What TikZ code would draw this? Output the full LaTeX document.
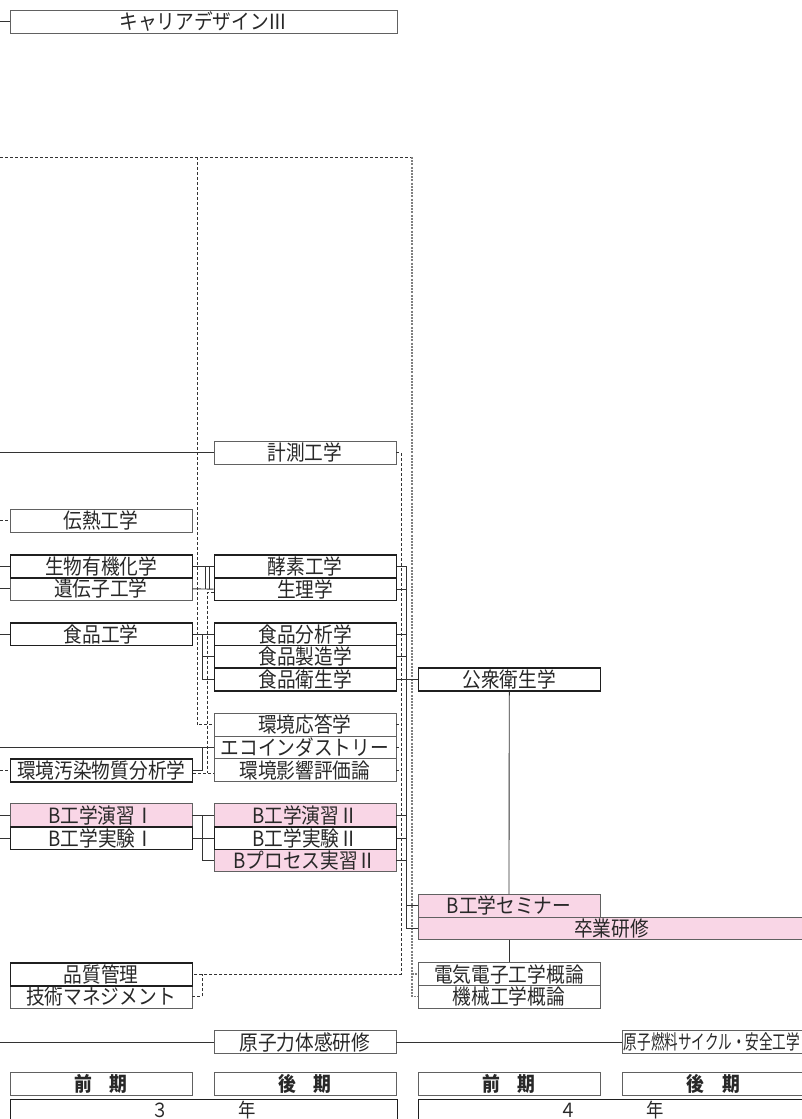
\documentclass[tikz,border=0pt]{standalone}
\usepackage{fontspec}
\setmainfont{Noto Sans CJK JP}[FakeStretch=0.89]
\newfontfamily\jpnarrow{Noto Sans CJK JP}[FakeStretch=0.68]
\usetikzlibrary{calc}
\definecolor{pinkc}{RGB}{249,214,230}
\definecolor{txt}{RGB}{40,40,40}
\tikzset{
  bx/.style={draw=black!62, line width=0.9pt, inner sep=0pt, anchor=north west,
    minimum width=182pt, minimum height=22.7pt, text=txt,
    font=\fontsize{21}{22}\selectfont},
  thk/.style={draw=black!88, line width=1.6pt},
  pk/.style={fill=pinkc},
  wide/.style={minimum width=387pt},
  ln/.style={draw=black!80, line width=0.9pt},
  dsh/.style={draw=black!80, line width=0.9pt, dash pattern=on 3pt off 2pt},
  gdsh/.style={draw=black!50, line width=1.3pt, dash pattern=on 2pt off 1.2pt},
  hdr/.style={bx, font=\fontsize{20}{21}\selectfont\bfseries},
  yr/.style={bx, thk, wide, minimum height=21pt, font=\fontsize{19.5}{20}\selectfont},
}
\begin{document}
\begin{tikzpicture}[x=1pt,y=-1pt]
\useasboundingbox (0,0) rectangle (802,1119);
\coordinate (edge) at (0,0);
\coordinate (topR) at (412,157);
\coordinate (vd1) at (197,157);
\coordinate (vd2) at (207,592);
\coordinate (vd2b) at (207,773);
\coordinate (vs1) at (202,0);
\coordinate (vs2) at (205.5,0);
\coordinate (vs3) at (209.5,0);
\coordinate (rd) at (401,0);
\coordinate (rb) at (406,0);

% ---- nodes (thin first, thick after)
\node[bx, wide] (cd3) at (9.5,10) {キャリアデザインⅢ};
\node[bx] (kei) at (213.5,441) {計測工学};
\node[bx] (den) at (9.5,509) {伝熱工学};
\node[bx] (iden) at (9.5,577) {遺伝子工学};
\node[bx, thk] (sei) at (9.5,554.3) {生物有機化学};
\node[bx, thk] (kou) at (213.5,554.3) {酵素工学};
\node[bx, thk] (seiri) at (213.5,577) {生理学};
\node[bx, thk] (shk) at (9.5,622) {食品工学};
\node[bx, thk] (sbun) at (213.5,622) {食品分析学};
\node[bx, thk] (ssei) at (213.5,644.7) {食品製造学};
\node[bx, thk] (seis) at (213.5,667.4) {食品衛生学};
\node[bx] (kou2) at (213.5,713) {環境応答学};
\node[bx] (eco) at (213.5,735.7) {エコインダストリー};
\node[bx] (eia) at (213.5,758.4) {環境影響評価論};
\node[bx, thk] (osen) at (9.5,758.4) {環境汚染物質分析学};
\node[bx, pk] (en1) at (9.5,803.3) {B工学演習Ⅰ};
\node[bx, thk] (jk1) at (9.5,826) {B工学実験Ⅰ};
\node[bx, pk] (en2) at (213.5,803.3) {B工学演習Ⅱ};
\node[bx, pk] (pr2) at (213.5,848.7) {Bプロセス実習Ⅱ};
\node[bx, thk] (jk2) at (213.5,826) {B工学実験Ⅱ};
\node[bx] (gij) at (9.5,985) {技術マネジメント};
\node[bx, thk] (hin) at (9.5,962.3) {品質管理};
\node[bx, thk] (kosh) at (417.5,667.4) {公衆衛生学};
\node[bx, pk] (sem) at (417.5,894) {B工学セミナー};
\node[bx, pk, wide] (sotsu) at (417.5,916.7) {卒業研修};
\node[bx] (dd) at (417.5,962.3) {電気電子工学概論};
\node[bx] (kik) at (417.5,985) {機械工学概論};
\node[bx] (gen) at (213.5,1030.3) {原子力体感研修};
\node[bx, minimum width=182pt, font=\jpnarrow\fontsize{20}{21}\selectfont, align=left, text width=179pt] (nen) at (622,1030.3) {原子燃料サイクル・安全工学};
\node[hdr] (h1) at (9.5,1072.3) {前　期};
\node[hdr] (h2) at (213.5,1072.3) {後　期};
\node[hdr] (h3) at (417.5,1072.3) {前　期};
\node[hdr] (h4) at (622,1072.3) {後　期};
\node[yr] (y3) at (9.5,1098.5) {３　　　　年};
\node[yr] (y4) at (417.5,1098.5) {４　　　　年};

% ---- connectors
\draw[ln] (edge |- cd3.west) -- (cd3.west);
\draw[dsh] (edge |- topR) -- (topR);
\draw[dsh] (vd1) |- (kou2.west);
\draw[gdsh] (topR) |- (kik.west);
\draw[gdsh] (topR |- dd.west) -- (dd.west);

\draw[ln] (edge |- kei.west) -- (kei.west);
\draw[dsh] (kei.east) -| (rd |- hin.east) -- (hin.east);
\draw[dsh] (kou2.east) -- (rd |- kou2.east);
\draw[dsh] (eco.east) -- (rd |- eco.east);
\draw[dsh] (eia.east) -- (rd |- eia.east);
\draw[dsh] (gij.east) -| (vs1 |- hin.east);

\draw[dsh] (edge |- den.west) -- (den.west);
\draw[ln] (edge |- sei.west) -- (sei.west);
\draw[ln] (edge |- iden.west) -- (iden.west);
\draw[ln] (edge |- shk.west) -- (shk.west);
\draw[ln] (edge |- en1.west) -- (en1.west);
\draw[ln] (edge |- jk1.west) -- (jk1.west);

\draw[ln] (sei.east) -- (kou.west);
\draw[ln] (iden.east) -- (seiri.west);
\draw[ln] (vs2 |- sei.east) -- (vs2 |- iden.east);
\draw[ln] (vs3 |- sei.east) -- (vs3 |- iden.east);

\draw[ln] (shk.east) -- (sbun.west);
\draw[ln] (vs1 |- shk.east) |- (seis.west);
\draw[ln] (vs1 |- ssei.west) -- (ssei.west);

\draw[dsh] (seiri.west |- vd2) -- (vd2) -- (vd2b);
\draw[dsh] (osen.east |- vd2b) -- (eia.west |- vd2b);

\draw[ln] (edge |- eco.west) -- (eco.west);
\draw[ln] (osen.east) -| (vs1 |- eco.west);
\draw[dsh] (edge |- osen.west) -- (osen.west);

\draw[ln] (en1.east) -- (en2.west);
\draw[ln] (jk1.east) -- (jk2.west);
\draw[ln] (vs1 |- en1.east) |- (pr2.west);

\draw[ln] (kou.east) -| (rb |- sotsu.west) -- (sotsu.west);
\draw[ln] (seiri.east) -- (rb |- seiri.east);
\draw[ln] (sbun.east) -- (rb |- sbun.east);
\draw[ln] (ssei.east) -- (rb |- ssei.east);
\draw[ln] (seis.east) -- (kosh.west);
\draw[ln] (en2.east) -- (rb |- en2.east);
\draw[ln] (jk2.east) -- (rb |- jk2.east);
\draw[ln] (pr2.east) -- (rb |- pr2.east);
\draw[ln] (rb |- sem.west) -- (sem.west);

\draw[ln] (kosh.south) -- (sem.north);
\draw[ln] (dd.north |- sotsu.south) -- (dd.north);

\draw[ln] (edge |- gen.west) -- (gen.west);
\draw[ln] (gen.east) -- (nen.west);
\end{tikzpicture}
\end{document}
